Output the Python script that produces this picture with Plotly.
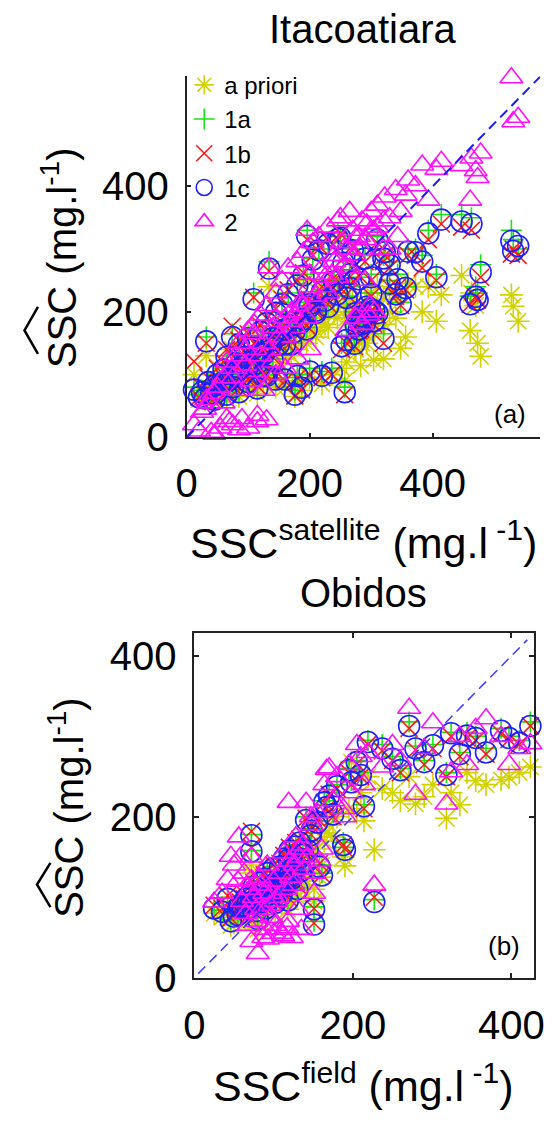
import plotly.graph_objects as go

W, H = 558, 1133

# ---------------- Panel (a) Itacoatiara ----------------
a_x = [528, 531, 539, 461, 473, 478, 447, 463, 470, 414, 406, 393, 383, 372, 356, 348, 343, 322, 320, 304,
       293, 283, 273, 257, 252, 246, 236, 220, 196, 187, 176, 134, 109, 74, 32, 12, 20, 25, 35, 40,
       50, 55, 60, 65, 70, 80, 85, 90, 95, 100, 105, 110, 115, 120, 125, 130, 140, 145, 150, 155,
       160, 165, 170, 180, 185, 190, 200, 205, 210, 215, 225, 230, 240, 250, 260, 265, 275, 285, 290, 300,
       310, 330, 340, 360, 298, 280, 45, 75, 130, 100,
       30, 45, 60, 75, 85, 95, 110, 120, 135, 140, 150, 160, 170, 175, 190, 195, 200, 210, 220, 230,
       240, 245, 255, 265, 270, 280, 290, 300, 310, 320, 330, 285, 295, 275, 305, 260, 160, 180, 200, 65,
       115, 85, 145, 125]
a_apriori = [227, 209, 185, 170, 150, 129, 258, 230, 210, 227, 185, 240, 200, 240, 160, 142, 227, 180, 125, 123,
             150, 114, 140, 90, 110, 230, 100, 85, 250, 75, 65, 240, 170, 140, 130, 100, 60, 70, 80, 65,
             90, 70, 95, 110, 80, 100, 120, 85, 110, 130, 95, 120, 100, 140, 110, 150, 130, 160, 120, 170,
             140, 180, 130, 190, 150, 200, 170, 220, 160, 230, 180, 240, 200, 250, 190, 200, 170, 180, 175, 230,
             195, 230, 190, 245, 180, 160, 60, 75, 90, 80,
             60, 75, 80, 90, 95, 100, 105, 115, 120, 110, 135, 125, 150, 140, 160, 150, 175, 170, 190, 175,
             200, 190, 210, 195, 220, 200, 215, 190, 240, 220, 200, 150, 160, 140, 170, 120, 80, 90, 95, 60,
             70, 65, 80, 85]
a_1a = [330, 315, 300, 225, 230, 275, 355, 350, 240, 355, 260, 330, 290, 300, 240, 215, 260, 300, 165, 190,
        215, 190, 155, 80, 150, 325, 110, 105, 330, 85, 75, 280, 230, 165, 160, 80, 68, 75, 90, 70,
        100, 85, 110, 130, 95, 120, 150, 100, 130, 160, 115, 145, 120, 170, 135, 185, 160, 200, 150, 215,
        175, 230, 150, 245, 185, 260, 210, 285, 200, 300, 220, 310, 250, 320, 225, 265, 200, 195, 185, 260,
        200, 280, 230, 300, 210, 175, 60, 80, 100, 90,
        65, 85, 90, 105, 110, 118, 125, 135, 145, 125, 165, 150, 180, 170, 190, 175, 215, 205, 235, 210,
        250, 230, 280, 240, 300, 255, 290, 230, 320, 290, 250, 190, 200, 180, 205, 160, 95, 100, 110, 70,
        80, 75, 95, 100]
a_1b = [292, 300, 290, 212, 219, 255, 335, 330, 224, 340, 250, 315, 270, 290, 235, 210, 240, 290, 150, 180,
        205, 172, 145, 68, 140, 315, 100, 95, 315, 76, 66, 265, 223, 177, 150, 121, 64, 80, 95, 72,
        110, 90, 120, 140, 100, 125, 155, 105, 135, 165, 118, 150, 125, 178, 140, 190, 165, 205, 150, 220,
        178, 235, 152, 250, 188, 262, 212, 290, 200, 305, 222, 315, 250, 325, 228, 255, 200, 190, 180, 250,
        195, 270, 225, 290, 200, 170, 62, 82, 100, 92,
        70, 88, 95, 110, 112, 120, 128, 140, 150, 128, 170, 152, 185, 172, 195, 178, 220, 208, 240, 212,
        255, 232, 285, 242, 305, 258, 280, 225, 310, 280, 240, 185, 195, 175, 200, 150, 90, 95, 100, 72,
        82, 78, 98, 100]
a_1c = [313, 297, 305, 212, 219, 263, 344, 340, 224, 347, 255, 325, 280, 295, 238, 212, 252, 295, 157, 185,
        208, 180, 149, 72, 145, 316, 103, 98, 321, 79, 68, 269, 220, 160, 153, 76, 64, 72, 88, 70,
        100, 85, 108, 128, 92, 118, 148, 98, 128, 158, 112, 143, 118, 168, 132, 182, 158, 198, 148, 212,
        172, 228, 148, 242, 182, 258, 208, 283, 198, 298, 218, 308, 248, 318, 222, 260, 198, 193, 182, 255,
        198, 275, 228, 296, 205, 172, 60, 80, 98, 88,
        62, 82, 88, 102, 108, 115, 122, 133, 143, 122, 162, 148, 178, 168, 188, 172, 212, 202, 232, 208,
        248, 228, 278, 238, 298, 252, 285, 228, 315, 285, 245, 188, 198, 178, 202, 155, 92, 98, 105, 68,
        78, 72, 92, 98]
a_2 = [573, 503, 510, 378, 414, 453, 433, 445, 425, 440, 427, 378, 434, 401, 386, 360, 320, 383, 300, 330,
       340, 300, 290, 275, 310, 345, 260, 240, 330, 210, 195, 270, 165, 110, 60, 20, 10, 40, 55, 8,
       80, 15, 95, 120, 25, 130, 150, 30, 140, 170, 90, 180, 35, 195, 150, 210, 175, 230, 160, 250,
       190, 270, 185, 280, 215, 295, 240, 310, 225, 320, 255, 335, 280, 350, 300, 360, 318, 345, 250, 360,
       370, 300, 395, 410, 210, 200, 5, 20, 28, 15,
       45, 70, 55, 95, 75, 115, 105, 130, 140, 120, 185, 160, 200, 175, 210, 190, 260, 215, 270, 230,
       290, 255, 300, 270, 330, 320, 315, 330, 335, 345, 350, 180, 195, 190, 200, 170, 110, 125, 140, 30,
       25, 12, 100, 75]
a_line = [0, 575]

# ---------------- Panel (b) Obidos ----------------
b_x = [424, 387, 368, 344, 324, 318, 301, 279, 271, 237, 227, 219, 214, 210, 198, 190, 188, 170, 167, 164,
       161, 151, 151, 147, 141, 119, 72, 72, 25, 46, 42, 80, 60, 65, 70, 75, 78, 82, 85, 88,
       90, 92, 95, 97, 100, 102, 105, 108, 110, 113, 115, 118, 120, 123, 125, 128, 130, 133, 135, 138,
       143, 148, 155, 158, 175, 180, 195, 205, 250, 260, 290, 335, 355, 397, 410, 55, 50, 35,
       68, 72, 87, 93, 100, 107, 112, 117, 122, 127, 132, 137, 103, 97, 84, 78, 63, 58, 56]
b_apriori = [262, 246, 240, 255, 230, 198, 240, 216, 250, 235, 159, 250, 195, 230, 268, 139, 150, 190, 180, 170,
             140, 110, 95, 150, 170, 130, 140, 130, 80, 65, 90, 60, 75, 80, 85, 90, 70, 95, 80, 100,
             75, 105, 85, 90, 110, 80, 95, 115, 90, 120, 100, 85, 125, 105, 110, 130, 100, 135, 115, 120,
             140, 155, 160, 125, 175, 200, 210, 205, 230, 220, 225, 215, 245, 249, 255, 70, 68, 75,
             75, 80, 85, 88, 92, 96, 100, 105, 110, 115, 120, 125, 100, 95, 90, 88, 85, 82, 80]
b_1a = [318, 310, 285, 305, 305, 255, 290, 288, 318, 290, 97, 295, 215, 255, 245, 162, 168, 230, 215, 220,
        130, 88, 70, 180, 200, 150, 178, 158, 88, 72, 100, 75, 90, 100, 105, 115, 85, 120, 95, 125,
        88, 132, 100, 110, 138, 95, 115, 140, 105, 150, 120, 98, 160, 125, 130, 165, 112, 170, 135, 145,
        160, 185, 195, 140, 205, 240, 260, 270, 275, 260, 270, 280, 300, 300, 295, 80, 78, 84,
        88, 95, 100, 105, 110, 112, 118, 125, 135, 140, 150, 155, 120, 115, 108, 100, 95, 92, 90]
b_1b = [313, 303, 278, 298, 300, 250, 285, 283, 310, 282, 100, 290, 210, 250, 240, 160, 165, 228, 210, 218,
        128, 86, 68, 178, 198, 148, 182, 162, 90, 74, 102, 78, 92, 102, 108, 118, 86, 122, 98, 128,
        90, 134, 103, 112, 140, 96, 118, 142, 108, 152, 122, 100, 162, 128, 132, 168, 115, 172, 138, 148,
        162, 188, 198, 142, 200, 235, 255, 266, 270, 255, 265, 275, 295, 296, 290, 82, 80, 86,
        90, 97, 102, 107, 112, 115, 120, 128, 137, 142, 152, 158, 123, 118, 110, 102, 98, 94, 92]
b_1c = [313, 307, 280, 301, 304, 252, 289, 285, 313, 285, 94, 293, 213, 252, 243, 159, 165, 226, 212, 218,
        127, 85, 66, 177, 196, 147, 177, 157, 86, 70, 98, 73, 88, 98, 103, 113, 83, 118, 94, 123,
        86, 130, 98, 108, 136, 93, 113, 138, 103, 148, 118, 96, 158, 123, 128, 163, 110, 168, 133, 143,
        158, 183, 193, 138, 203, 238, 258, 268, 272, 258, 268, 278, 298, 298, 292, 78, 76, 82,
        86, 93, 98, 103, 108, 110, 116, 123, 133, 138, 148, 153, 118, 113, 106, 98, 93, 90, 88]
b_2 = [291, 300, 322, 265, 256, 216, 317, 228, 335, 262, 115, 280, 240, 275, 230, 200, 210, 261, 259, 240,
       160, 130, 105, 200, 218, 218, 150, 122, 94, 151, 122, 30, 95, 80, 110, 100, 70, 125, 85, 105,
       60, 140, 90, 75, 120, 65, 100, 130, 55, 155, 110, 70, 145, 50, 115, 175, 85, 160, 60, 135,
       150, 190, 205, 145, 220, 250, 265, 290, 290, 270, 285, 300, 310, 265, 285, 120, 140, 105,
       65, 45, 50, 48, 55, 60, 52, 62, 125, 140, 150, 165, 95, 105, 115, 85, 130, 150, 175]
b_line = [5, 420]

names = ["a priori", "1a", "1b", "1c", "2"]
symbols = ["asterisk-open", "cross-thin-open", "x-thin-open", "circle-open", "triangle-up-open"]
colors = ["#d2d200", "#14e614", "#ff1a1a", "#1f1fff", "#ff10ff"]
sizes = [19, 15, 17, 21, 20]

FONT = "Liberation Sans, Arial, sans-serif"

fig = go.Figure()

def add_panel(xs, ys_list, line, xa, ya, show):
    for i, ys in enumerate(ys_list):
        fig.add_trace(go.Scatter(
            x=xs, y=ys, mode="markers", name=names[i], showlegend=show,
            xaxis=xa, yaxis=ya, cliponaxis=False,
            marker=dict(symbol=symbols[i], size=sizes[i], color=colors[i],
                        line=dict(width=1.6, color=colors[i]))))
    fig.add_trace(go.Scatter(
        x=line, y=line, mode="lines", showlegend=False, xaxis=xa, yaxis=ya,
        line=dict(color="#1a1aff" if show else "#3c3cff", width=2 if show else 1.5, dash="10px,6px")))

add_panel(a_x, [a_apriori, a_1a, a_1b, a_1c, a_2], a_line, "x", "y", True)
add_panel(b_x, [b_apriori, b_1a, b_1b, b_1c, b_2], b_line, "x2", "y2", False)

def px(x):
    return x / W

def py(y):
    return 1 - y / H

axis_common = dict(showgrid=False, zeroline=False, showline=True, linecolor="#222", linewidth=1.6,
                   ticks="inside", ticklen=5, tickwidth=1.5, tickcolor="#222",
                   tickvals=[0, 200, 400], tickfont=dict(family=FONT, size=40, color="black"))

fig.update_layout(
    width=W, height=H, margin=dict(l=0, r=0, t=0, b=0),
    paper_bgcolor="white", plot_bgcolor="white",
    font=dict(family=FONT, color="black"),
    xaxis=dict(domain=[px(182.5), px(550)], range=[0, 575], anchor="y", mirror=False,
               ticklabelstandoff=10, **axis_common),
    yaxis=dict(domain=[py(446), py(78)], range=[0, 575], anchor="x", mirror=False,
               ticklabelstandoff=8, **axis_common),
    xaxis2=dict(domain=[px(190.5), px(543)], range=[0, 428], anchor="y2", mirror="ticks",
                ticklabelstandoff=12, **axis_common),
    yaxis2=dict(domain=[py(997), py(646)], range=[0, 428], anchor="x2", mirror="ticks",
                ticklabelstandoff=8, **axis_common),
    legend=dict(x=px(180), y=py(64), xanchor="left", yanchor="top", bgcolor="rgba(0,0,0,0)",
                font=dict(family=FONT, size=24, color="black"), tracegroupgap=0),
    showlegend=True,
)

def ann(text, x, y, size, angle=0):
    fig.add_annotation(text=text, x=px(x), y=py(y), xref="paper", yref="paper",
                       xanchor="center", yanchor="middle", showarrow=False, textangle=angle,
                       font=dict(family=FONT, size=size, color="black"))

ann("Itacoatiara", 366, 30, 40)
ann("Obidos", 366, 605, 40)
ann("SSC<sup>satellite</sup> (mg.l<sup> -1</sup>)", 366, 551, 43)
ann("SSC<sup>field</sup> (mg.l<sup> -1</sup>)", 366, 1104, 43)
ann("SSC (mg.l<sup>-1</sup>)", 50, 263, 40, -90)
ann("SSC (mg.l<sup>-1</sup>)", 57, 824, 40, -90)
ann("(a)", 518, 422, 26)
ann("(b)", 512, 965, 26)

def hat(ax, ay, bx, by1, by2):
    path = "M {} {} L {} {} L {} {}".format(px(bx), py(by1), px(ax), py(ay), px(bx), py(by2))
    fig.add_shape(type="path", path=path, xref="paper", yref="paper",
                  line=dict(color="black", width=2.5))

hat(14, 337, 28, 313, 361)
hat(27, 902, 41, 880, 925)

fig.write_html("out.html")
